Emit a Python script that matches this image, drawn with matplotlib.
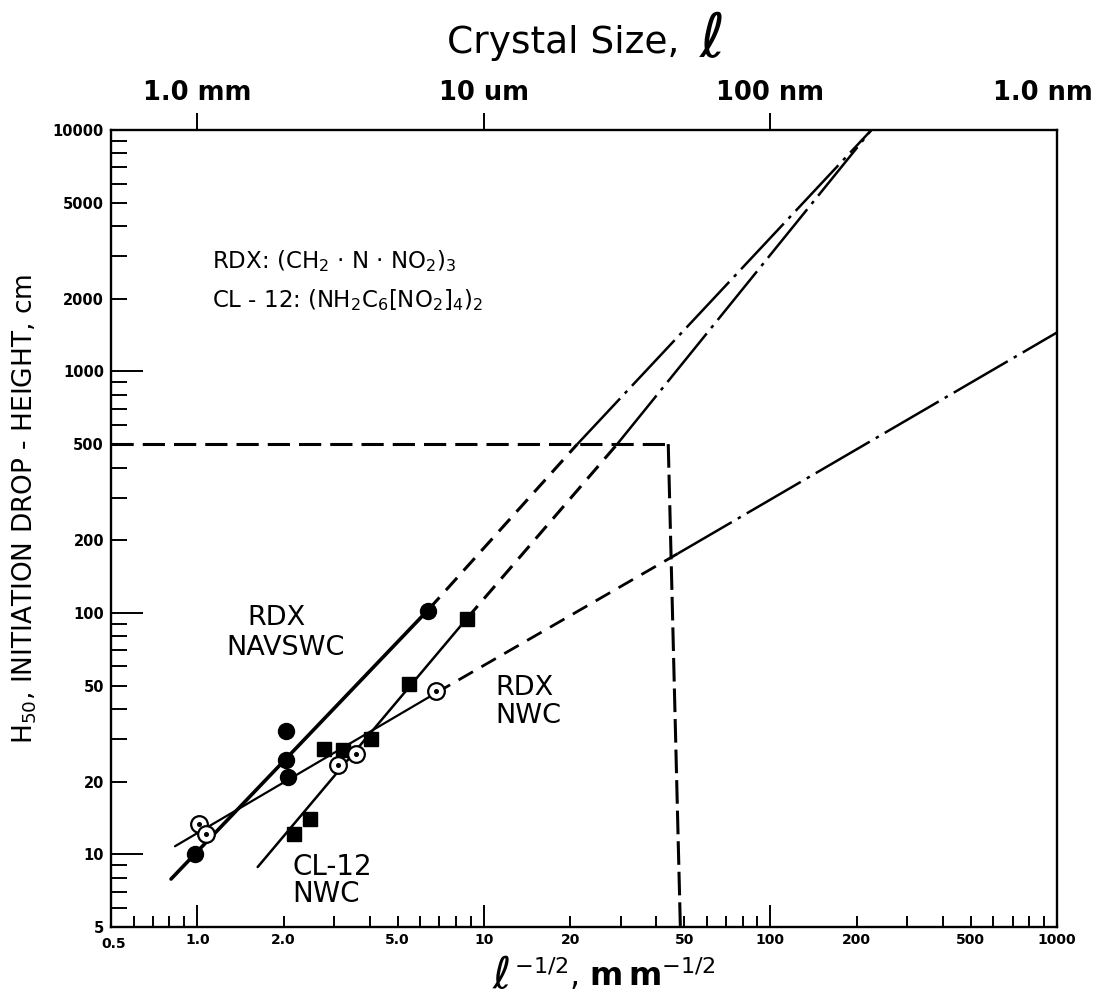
import matplotlib
matplotlib.use('Agg')
import matplotlib.pyplot as plt
import matplotlib.transforms as mtransforms
from matplotlib.ticker import FixedLocator, FuncFormatter

plt.rcParams['font.family'] = ['DejaVu Sans']
plt.rcParams['mathtext.fontset'] = 'dejavusans'
plt.rcParams['lines.scale_dashes'] = False

# ---------------- data ----------------
# measured points
navswc_x = [0.98, 2.04, 2.04, 2.07, 6.4]          # filled circles (RDX NAVSWC)
navswc_y = [10.0, 32.4, 24.7, 21.0, 102.0]
nwc_x = [1.015, 1.07, 3.10, 3.59, 6.79]           # open circles (RDX NWC)
nwc_y = [13.4, 12.1, 23.4, 26.1, 47.3]
cl12_x = [2.18, 2.48, 2.77, 3.23, 4.05, 5.49, 8.72]   # filled squares (CL-12 NWC)
cl12_y = [12.1, 14.05, 27.2, 27.1, 29.9, 50.9, 94.7]

# trend lines: start, end of solid part, end of dashed part, end of dash-dot part
navswc_line_x = [0.81, 6.4, 21.2, 225.0]
navswc_line_y = [7.9, 103.0, 500.0, 10000.0]
cl12_line_x = [1.625, 8.72, 29.2, 225.0]
cl12_line_y = [8.86, 94.7, 500.0, 10000.0]
nwc_line_x = [0.836, 6.79, 47.5, 1000.0]
nwc_line_y = [10.8, 46.5, 176.0, 1450.0]

# 500 cm guide
guide_h_x = [0.5, 44.0]
guide_h_y = [500.0, 500.0]
guide_v_x = [44.0, 48.5]
guide_v_y = [500.0, 5.0]

# axes ticks / labels
x_label_ticks = [0.5, 1, 2, 5, 10, 20, 50, 100, 200, 500, 1000]
x_label_text = ['0.5', '1.0', '2.0', '5.0', '10', '20', '50', '100', '200', '500', '1000']
y_label_ticks = [5, 10, 20, 50, 100, 200, 500, 1000, 2000, 5000, 10000]
y_label_text = ['5', '10', '20', '50', '100', '200', '500', '1000', '2000', '5000', '10000']
top_ticks = [1, 10, 100]
top_labels = ['1.0 mm', '10 um', '100 nm']
top_last_tick = 1000
top_last_label = '1.0 nm'

W, H = 1102, 1000
fig = plt.figure(figsize=(W / 100, H / 100), dpi=100)
ax = fig.add_axes([111 / W, 73 / H, 946 / W, 797 / H])
ax.set_xscale('log')
ax.set_yscale('log')
ax.set_xlim(0.5, 1000)
ax.set_ylim(5, 10000)


def P(x, y):
    return x / W, 1 - y / H


DASHED = (12, 7)
DASHDOT = (45, 5, 2.5, 5)


def trend(xs, ys, lws):
    ax.plot(xs[0:2], ys[0:2], color='black', lw=lws[0], solid_capstyle='round', zorder=2)
    l, = ax.plot(xs[1:3], ys[1:3], color='black', lw=lws[1], zorder=2)
    l.set_dashes(DASHED)
    l, = ax.plot(xs[2:4], ys[2:4], color='black', lw=lws[2], zorder=2)
    l.set_dashes(DASHDOT)


trend(navswc_line_x, navswc_line_y, (2.6, 2.2, 1.8))
trend(cl12_line_x, cl12_line_y, (1.8, 2.2, 1.8))
trend(nwc_line_x, nwc_line_y, (1.6, 2.0, 1.8))

l, = ax.plot(guide_h_x, guide_h_y, color='black', lw=2.2, zorder=2)
l.set_dashes((16, 6.5))
l, = ax.plot(guide_v_x, guide_v_y, color='black', lw=2.2, zorder=2)
l.set_dashes((17, 5))

# markers
ax.plot(navswc_x, navswc_y, 'o', color='black', ms=11.5, zorder=4)
ax.plot(cl12_x, cl12_y, 's', color='black', ms=9.5, zorder=4)
ax.plot(nwc_x, nwc_y, 'o', mfc='white', mec='black', mew=1.6, ms=12, zorder=4)
ax.plot(nwc_x, nwc_y, 'o', color='black', ms=2.6, zorder=5)

# ---------------- ticks ----------------
xmajor = [1, 10, 100]
xminor = [v * d for d in (0.1, 1, 10, 100) for v in range(2, 10)]
xminor = [v for v in xminor if 0.5 <= v <= 1000 and v not in xmajor] + [1000]
ax.xaxis.set_major_locator(FixedLocator(xmajor))
ax.xaxis.set_minor_locator(FixedLocator(xminor))
xlab = dict(zip(x_label_ticks, x_label_text))


def fx(v, pos=None):
    for k, t in xlab.items():
        if abs(v - k) / k < 1e-6:
            return t
    return ''


ax.xaxis.set_major_formatter(FuncFormatter(fx))
ax.xaxis.set_minor_formatter(FuncFormatter(fx))

ymajor = [10, 100, 1000]
yminor = [v * d for d in (1, 10, 100, 1000) for v in range(2, 10)]
yminor = [v for v in yminor if 5 <= v <= 10000 and v not in ymajor] + [10000]
ax.yaxis.set_major_locator(FixedLocator(ymajor))
ax.yaxis.set_minor_locator(FixedLocator(yminor))
ylab = dict(zip(y_label_ticks, y_label_text))


def fy(v, pos=None):
    for k, t in ylab.items():
        if abs(v - k) / k < 1e-6:
            return t
    return ''


ax.yaxis.set_major_formatter(FuncFormatter(fy))
ax.yaxis.set_minor_formatter(FuncFormatter(fy))

ax.tick_params(axis='x', which='major', direction='in', length=16, width=1.4, pad=4,
               top=False, labelsize=10)
ax.tick_params(axis='x', which='minor', direction='in', length=8, width=1.4, pad=4,
               top=False, labelsize=10)
ax.tick_params(axis='y', which='major', direction='in', length=23, width=1.4, pad=5,
               right=False, labelsize=10.5)
ax.tick_params(axis='y', which='minor', direction='in', length=11.5, width=1.4, pad=5,
               right=False, labelsize=10.5)
for lab in ax.get_xticklabels(which='both') + ax.get_yticklabels(which='both'):
    lab.set_fontweight('bold')
for s in ax.spines.values():
    s.set_linewidth(1.7)

# nudge the "0.5" corner label down-right a little, as in the reference
fig.canvas.draw()
for tk in ax.xaxis.get_minor_ticks():
    if abs(tk.get_loc() - 0.5) < 1e-9:
        lab = tk.label1
        lab.set_transform(lab.get_transform() +
                          mtransforms.ScaledTranslation(2 / 72, -3 / 72, fig.dpi_scale_trans))

# top axis (crystal size)
ax2 = ax.twiny()
ax2.set_xscale('log')
ax2.set_xlim(ax.get_xlim())
ax2.xaxis.set_major_locator(FixedLocator(top_ticks))
ax2.xaxis.set_minor_locator(FixedLocator([]))
ax2.set_xticklabels(top_labels, fontsize=18.5, fontweight='bold')
ax2.tick_params(axis='x', which='major', direction='out', length=12, width=1.4, pad=5)
for s in ax2.spines.values():
    s.set_visible(False)
ax2.annotate(top_last_label, xy=(top_last_tick, 1), xycoords=('data', 'axes fraction'),
             xytext=(-10, 17), textcoords='offset points', ha='center', va='bottom',
             fontsize=18.5, fontweight='bold')

# ---------------- texts ----------------
fig.text(*P(447, 53), 'Crystal Size,', fontsize=27, ha='left', va='baseline')
fig.text(*P(699, 57), r'$\ell$', fontsize=44, ha='left', va='baseline')

fig.text(*P(25, 509), r'H$_{50}$, INITIATION DROP - HEIGHT, cm', rotation=90,
         fontsize=19, ha='center', va='center')

fig.text(*P(492, 988), r'$\ell$', fontsize=32, ha='left', va='baseline')
fig.text(*P(514, 986), r'${}^{-1/2}$, $\mathbf{m\,m}^{-1/2}$', fontsize=23,
         ha='left', va='baseline')

fig.text(*P(212, 268), 'RDX: (CH$_2$ · N · NO$_2$)$_3$', fontsize=16.5,
         ha='left', va='baseline')
fig.text(*P(212, 307), 'CL - 12: (NH$_2$C$_6$[NO$_2$]$_4$)$_2$', fontsize=16.5,
         ha='left', va='baseline')

fig.text(*P(247, 625), 'RDX', fontsize=19.5, ha='left', va='baseline')
fig.text(*P(226, 655), 'NAVSWC', fontsize=19.5, ha='left', va='baseline')
fig.text(*P(495, 695), 'RDX', fontsize=19.5, ha='left', va='baseline')
fig.text(*P(495, 723), 'NWC', fontsize=19.5, ha='left', va='baseline')
fig.text(*P(293, 875), 'CL-12', fontsize=20, ha='left', va='baseline')
fig.text(*P(292, 902), 'NWC', fontsize=20, ha='left', va='baseline')

fig.savefig('out.png', dpi=100, facecolor='white')
